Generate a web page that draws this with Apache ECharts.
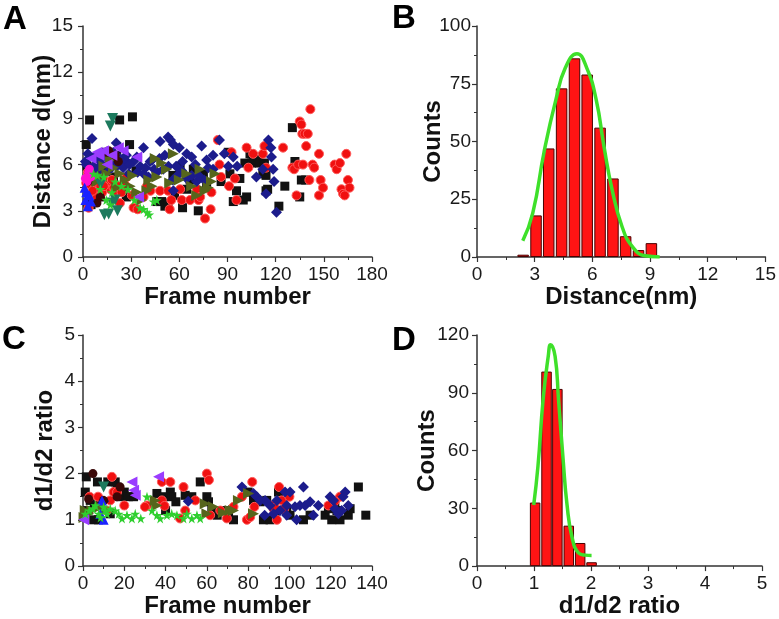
<!DOCTYPE html>
<html>
<head>
<meta charset="utf-8">
<script src="https://cdn.jsdelivr.net/npm/echarts@6/dist/echarts.min.js"></script>
<style>html,body{margin:0;padding:0;background:#fff}#c{width:779px;height:619px}</style>
</head>
<body>
<div id="c"></div>
<script>
// ---------- Panel A: distance vs frame ----------
const aBlack = [[4.1,8.9],[22.8,8.9],[30.8,9.1],[2,7.3],[29,7.3],[2.5,5.9],[14.5,6.8],[21,6.6],[3,3.5],[5,3.4],[27,3.9],[17,4.8],[10.8,3.9],[25,6.3],[8,4.2],[12,5.8],[19,5.2],[33,5.6],
[46,3.6],[49,3.6],[51,3.3],[53,3.5],[57,4],[56,5.3],[60.5,5.9],[62,3.2],[64.6,4.4],[66.7,5],[68.7,5.7],[71.8,3],[75,5.4],[77,4.7],[86,4.9],[90.5,6.8],[91.5,5.4],[93.6,3.6],[95.6,4.3],[97.7,5.1],[100.8,6.1],[99.8,3.7],[101.9,3.9],[104,6.7],[105,6.1],[106,6.3],[109,6.5],[110,6.1],[112,5.4],[113,6.1],[114,5.3],[115,4.4],[114,4.3],[122,3.3],[125.7,4.6],[130.4,8.4],[132,6.2],[135,3.9],[136,5],[138.7,5]];
const aRed = [[3.5,3.2],[2,4.8],[4.5,5],[7.7,5.6],[3,5.5],[4.5,4.7],[6.6,4.8],[8.7,3.9],[10.8,4.6],[14,4.8],[17,4.4],[19,4.5],[20,4.3],[23,3.5],[26,4.7],[27.3,5.2],[30.4,4],[31.5,3.2],[34,3.1],[37.7,3.9],[39.8,4.6],[42,4.3],[12,4.2],[16,4.9],[22,4.6],[9,5.1],[6,4.3],[13,4.6],[18,5.0],[24,4.2],
[48,4.3],[53,4.3],[54,3.1],[55,3.7],[60.5,4.4],[61.5,3.7],[66.7,3.7],[71,4.4],[72,3.7],[73,3.9],[76,2.5],[79.5,3.1],[80,4.2],[84,7.6],[85,6],[86,5.2],
[92.5,6.8],[91,4.6],[94.6,5.1],[95.6,3.7],[101.9,7.1],[103,5.8],[106,6.7],[112,6.7],[113,7.2],[114,5.8],[124.6,7.1],[130.4,5.8],[131.5,5.7],[133,4],[134,6],[135,8.8],[136,8.6],[136.6,8.0],[138,8.0],[139,7.2],[140,8.0],[141,5.0],[141.6,9.6],[137,6],[143,6],[144,5.8],[147,6.7],[147,4],[148,5],[149.5,4.5],[156.7,6],[158,5.7],[160,6.1],[161,4.4],[162,4.1],[163,4],[164,6.7],[165,5],[166,4.5]];
const aNavy = [[5.6,7.7],[3,6.7],[1.5,6.2],[20.7,7.4],[37.7,7.1],[48,7.5],[53,7.8],[54.5,7.6],[56.3,7.3],[60,7.1],[64.6,6.7],[67.7,6.5],[73.9,7.2],[85,7.6],[77,6.3],[81,6.6],[88,6.7],[81,5.7],[78,5.8],[75.4,5],[70.8,4.9],[67.7,5.3],[64.6,5.1],[61.5,5.6],[58.8,5.3],[55.9,5],[53.2,5.9],[56.3,4.3],[50,5.7],[47.6,6.4],[44.3,5.7],[41.8,6.2],[40.8,5.2],[37.7,5.4],[35.6,5.9],[33.5,6.5],[31.5,6.2],[28.4,5.4],[26.3,6.3],[23,6.4],[21,5.9],[18,6.1],[14.9,6.4],[11.8,6],[9.7,6.3],[6.6,5.9],[4.6,5.4],[7,6.5],[12,6.7],[16,5.6],[25,5.8],[29,6.0],[34,5.5],[43,6.3],[96,5.9],[108,5.2],[112,5.7],[115.5,7.6],[117,7.1],[117.4,6.5],[118.4,5.7],[119,4.9],[114,4.1],[120.5,2.9],[93.6,6.5],[90.5,5.9],[2,6.0],[10,5.6],[19,6.8],[27,6.6],[39,5.8],[46,5.5],[51,6.6],[62,6.2],[70,6.0],[72,5.3],[58,5.9]];
const aOlive = [[56.3,6.7],[49,6.1],[46,5.2],[43,4.6],[39.8,4.3],[33.5,4.2],[29.4,4.6],[26.3,5],[23,5.4],[19,5.8],[14.9,5.4],[11.8,5.2],[8.7,4.9],[67.7,4.6],[70.8,4],[76,4.3],[78,4.5],[80,4.9],[82.2,5.4],[72.9,5.7],[64.6,5.4],[52,5.7],[36.6,3.7],[17,6.3],[60,5.0],[45,6.4],[31,5.3],[21,4.5],[13,5.9],[41,5.0],[54,4.8]];
const aStar = [[35.6,3.2],[37.7,3.1],[40,2.9],[41.2,2.75],[44,3.6],[46,3.7],[14.5,3.7],[17,3.4],[10.8,4.4],[20,4.9],[24,4.6],[28,4.4],[6.6,5.4],[13,5.2],[9,5.3],[18,4.2],[32,3.7]];
const aTeal = [[18.4,9],[17,8.5],[13.3,2.75],[16,2.8],[21.5,3],[20,3.7],[18,3.5],[11,4.7]];
const aViolet = [[8.7,6.8],[12.8,6.9],[22,7.1],[18,6.6],[33.5,6.5],[34.6,3.9],[15,6.0],[10,6.6],[25,6.9],[5,6.4]];
const aPink = [[3.5,5.5],[4,5.7],[1.5,5.1],[2.5,4.9],[5,5.2]];
const aBlue = [[1.5,3.7],[3,3.3],[2,4.2],[1,4.5],[5,3.6],[4,4.0]];
const aBrown = [[14.9,6.8],[20,6.6],[8.7,3.5],[10.8,3.9],[3,4.9],[16,6.9],[22,6.2]];

// ---------- Panel B: distance histogram ----------
const bBins = [2.4,3.07,3.73,4.4,5.07,5.73,6.4,7.07,7.73,8.4,9.07];
const bCounts = [1,18,47,73,86,79,56,34,9,3,6];
const bFitX = [2.38,2.9,3.5,4.1,4.6,5.2,5.7,6.2,6.6,7.03,7.55,8.07,8.75,9.5];
const bFitY = [7,19,46,68,82,88,82,68,48,29,13,4.6,0.5,0];

// ---------- Panel C: ratio vs frame ----------
const cBlack = [[1.6,1.93],[1.1,1.6],[7,1.82],[12,1.82],[15.6,1.82],[16.5,1.71],[18,1.5],[20,1.6],[22,1.5],[24.5,1.5],[8.4,1.42],[3.5,1.42],[5.5,1.3],[2.3,1.2],[5.2,1],[13.2,1.13],[7.5,1.0],[35.8,1.57],[39,1.5],[40,1.2],[42.3,1.6],[43,1.5],[45,1.39],[49.5,1.53],[52.7,1.5],[56.8,1.82],[60,1.5],[60.8,1.39],[62.4,1.2],[65,1.1],[68,1.2],[70.5,1.1],[72.9,1],[80,1.6],[82.6,1.42],[85.8,1.39],[87.4,1],[89,1.42],[90.6,1],[93,1.1],[94.7,1.6],[98.7,1.2],[100.3,1.1],[106.8,1],[110,1.1],[117.3,1.1],[118.9,1.24],[120.5,1],[122,1.39],[123,1.2],[124.5,1],[128.5,1.1],[129.4,1.24],[133.4,1.71],[137,1.1],[92.5,1.3]];
const cRed = [[3.2,1.5],[7.3,1.5],[14,1.93],[14.8,1.6],[16.5,1.6],[13.2,1.42],[11.5,1.2],[20,1.31],[31,1.31],[30,1.28],[38.2,1.82],[42.3,1.82],[38.2,1.42],[39.5,1.3],[48.7,1.71],[49.5,1.2],[54.4,1.42],[47,1.03],[60,2],[61,1.86],[61.6,1.1],[66.5,1.2],[69.7,1.03],[72.9,1.28],[77,1.5],[79.4,1],[81,1.06],[82,1.82],[83,1.28],[91.5,1.31],[92.3,1.24],[93,1.26],[93.9,1],[95,1.71],[96.3,1.42],[97.5,1.24],[100,1.5],[118.9,1.31],[124.5,1.5],[122,1.4]];
const cNavy = [[77,1.71],[82.6,1.57],[84.2,1.5],[85.8,1.42],[88.2,1.42],[90.6,1.31],[92.3,1.13],[93.9,1.42],[97.9,1.6],[100.3,1.6],[98.7,1.31],[102.7,1.28],[103.5,1],[105.1,1.31],[106.8,1.71],[107.6,1.31],[110,1.39],[111.6,1.1],[114,1.31],[119.7,1.5],[121.3,1.42],[122,1.24],[123.7,1.13],[125.3,1.2],[126,1.5],[127,1.6],[128.5,1.31],[98.7,1.1],[95.5,1.2],[51,1.4],[10,1.4],[88,1.1]];
const cStar = [[1.1,1.13],[3,1.2],[4.8,1.24],[6,1.31],[7.6,1.13],[10,1.28],[10.8,1.2],[11.6,1.13],[13.2,1.24],[15.6,1.2],[17.3,1.13],[18.9,1.03],[21.3,1.1],[23.7,1.03],[25.3,1.13],[28,1.03],[31,1.5],[33.4,1.2],[35.8,1.1],[37.4,1.03],[40.6,1.1],[43,1.13],[45.5,1.1],[48.7,1.03],[50.3,1.13],[52.7,1.03],[55.2,1.1],[56.8,1.03],[8.5,1.05]];
const cOlive = [[1.1,1.2],[2.7,1.13],[4.3,1.2],[8.4,1.28],[10.8,1.2],[35,1.42],[35.8,1.31],[59.2,1.35],[60,1.13],[63.2,1.28],[71.3,1.2],[72.9,1.2],[75.3,1.42],[80.2,1.57],[82.6,1.13],[68,1.15],[0.5,1.05]];
const cViolet = [[23.7,1.82],[24.5,1.64],[25.3,1.53],[36.6,1.93],[0.3,1.0]];
const cTeal = [[10,1.71]];
const cBlue = [[9.2,1.42],[10,1.0],[8.4,1.13]];
const cBrown = [[4.8,2.0],[10,1.42],[2.7,1.45],[16.5,1.5],[18,1.71]];

// ---------- Panel D: ratio histogram ----------
const dBins = [1.02,1.22,1.41,1.61,1.81,2.01];
const dCounts = [33,101,92,21,12,2];
const dFitX = [0.995,1.07,1.16,1.25,1.29,1.37,1.43,1.51,1.58,1.67,1.78,1.9,2.01];
const dFitY = [31.7,52,86.6,109,115,109,86.6,55.7,31.7,14.6,6.9,5.7,5.5];

// ---------- tick labels / ranges ----------
const aXTicks = [0,180,30], aYTicks = [0,15,3];
const bXTicks = [0,15,3], bYTicks = [0,100,25];
const cXTicks = [0,140,20], cYTicks = [0,5,1];
const dXTicks = [0,5,1], dYTicks = [0,120,30];

const FONT = '"Liberation Sans", Arial, sans-serif';
const STAR = 'path://M50,0 L61,35 L98,35 L68,57 L79,91 L50,70 L21,91 L32,57 L2,35 L39,35 Z';

function axis(idx, t, name, gap, labelMargin, fixedName) {
  const o = {
    type: 'value', gridIndex: idx, min: t[0], max: t[1], interval: t[2],
    name: name, nameLocation: 'middle', nameGap: gap,
    nameTextStyle: {fontFamily: FONT, fontWeight: 'bold', fontSize: 24, color: '#111'},
    axisLine: {show: true, onZero: false, lineStyle: {color: '#333', width: 1.5}},
    axisTick: {show: true, inside: false, length: 5, lineStyle: {color: '#333', width: 1.2}},
    minorTick: {show: true, splitNumber: 2, length: 3, lineStyle: {color: '#333', width: 1}},
    splitLine: {show: false},
    axisLabel: {fontFamily: FONT, fontSize: 19, color: '#1a1a1a', margin: labelMargin, showMinLabel: true, showMaxLabel: true}
  };
  if (fixedName) o.nameMoveOverlap = false;
  return o;
}

function sc(data, xi, sym, color, size, rot, border) {
  return {
    type: 'scatter', xAxisIndex: xi, yAxisIndex: xi, data: data,
    symbol: sym, symbolSize: size, symbolRotate: rot || 0,
    itemStyle: {color: color, borderColor: border || color, borderWidth: border ? 1 : 0, opacity: 1},
    emphasis: {disabled: true}, silent: true, animation: false
  };
}

function scatterSet(xi, s) {
  return [
    sc(s.black, xi, 'rect', '#111111', 9),
    sc(s.red, xi, 'circle', '#f01010', 9, 0, '#ff5a5a'),
    sc(s.navy, xi, 'diamond', '#1c1c8c', 11),
    sc(s.olive, xi, 'triangle', '#56651c', 11, -90),
    sc(s.brown, xi, 'circle', '#3a0808', 9),
    sc(s.violet, xi, 'triangle', '#9a3cff', 11, 90),
    sc(s.pink, xi, 'circle', '#ff10d0', 9),
    sc(s.blue, xi, 'triangle', '#1a22ff', 10),
    sc(s.teal, xi, 'triangle', '#1d7a5e', 11, 180),
    sc(s.star, xi, STAR, '#2fcf2f', 10)
  ];
}

function zip(xs, ys) { return xs.map((x, i) => [x, ys[i]]); }

const chart = echarts.init(document.getElementById('c'), null, {renderer: 'canvas'});
chart.setOption({
  animation: false,
  backgroundColor: '#fff',
  grid: [
    {left: 83, top: 26, width: 289, height: 231},
    {left: 477, top: 26, width: 291, height: 231},
    {left: 83, top: 335, width: 289, height: 231},
    {left: 477, top: 335, width: 285, height: 233}
  ],
  xAxis: [
    axis(0, aXTicks, 'Frame number', 28, 8),
    axis(1, bXTicks, 'Distance(nm)', 28, 8),
    axis(2, cXTicks, 'Frame number', 20, 8),
    axis(3, dXTicks, 'd1/d2 ratio', 24, 8)
  ],
  yAxis: [
    axis(0, aYTicks, 'Distance d(nm)', 28, 10, true),
    axis(1, bYTicks, 'Counts', 32, 6, true),
    axis(2, cYTicks, 'd1/d2 ratio', 26, 8, true),
    axis(3, dYTicks, 'Counts', 38, 8, true)
  ],
  graphic: [
    {type: 'text', left: 3, top: 3, style: {text: 'A', font: 'bold 33px ' + FONT, fill: '#000'}},
    {type: 'text', left: 392, top: 2, style: {text: 'B', font: 'bold 33px ' + FONT, fill: '#000'}},
    {type: 'text', left: 2, top: 323, style: {text: 'C', font: 'bold 33px ' + FONT, fill: '#000'}},
    {type: 'text', left: 392, top: 324, style: {text: 'D', font: 'bold 33px ' + FONT, fill: '#000'}}
  ],
  series: [
    ...scatterSet(0, {black: aBlack, red: aRed, navy: aNavy, olive: aOlive, brown: aBrown, violet: aViolet, pink: aPink, blue: aBlue, teal: aTeal, star: aStar}),
    ...scatterSet(2, {black: cBlack, red: cRed, navy: cNavy, olive: cOlive, brown: cBrown, violet: cViolet, pink: [], blue: cBlue, teal: cTeal, star: cStar}),
    {type: 'bar', xAxisIndex: 1, yAxisIndex: 1, data: zip(bBins, bCounts), barWidth: 11.5,
     itemStyle: {color: '#ff1414', borderColor: '#4a0000', borderWidth: 1}, silent: true},
    {type: 'line', xAxisIndex: 1, yAxisIndex: 1, data: zip(bFitX, bFitY), smooth: true, symbol: 'none',
     lineStyle: {color: '#3ee02a', width: 3.5}, z: 5, silent: true},
    {type: 'bar', xAxisIndex: 3, yAxisIndex: 3, data: zip(dBins, dCounts), barWidth: 10.5,
     itemStyle: {color: '#ff1414', borderColor: '#4a0000', borderWidth: 1}, silent: true},
    {type: 'line', xAxisIndex: 3, yAxisIndex: 3, data: zip(dFitX, dFitY), smooth: true, symbol: 'none',
     lineStyle: {color: '#3ee02a', width: 3.5}, z: 5, silent: true}
  ]
});
</script>
</body>
</html>
